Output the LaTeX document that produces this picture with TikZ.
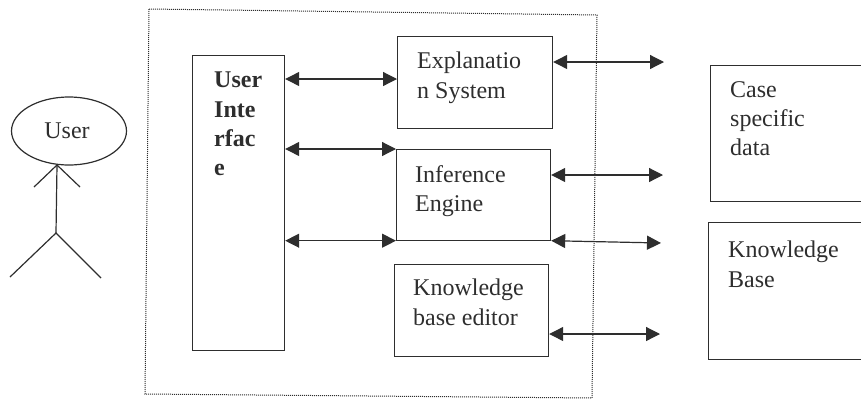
\documentclass[tikz,border=0pt]{standalone}
\usepackage{fontspec}
\setmainfont{Liberation Serif}
\usetikzlibrary{arrows.meta,shapes.geometric}
\definecolor{inkgray}{gray}{0.18}
\tikzset{
  blockbox/.style={draw=inkgray,line width=1.2pt,inner sep=0pt,anchor=north west,align=left},
  blocktext/.style={inner sep=0pt,anchor=north west,align=left,text=inkgray,font=\fontsize{24}{29.3}\selectfont},
  bothway/.style={draw=inkgray,line width=1.2pt,{Triangle[length=14pt,width=14pt]}-{Triangle[length=14pt,width=14pt]}}
}
\begin{document}
\begin{tikzpicture}[x=1pt,y=-1pt]
\useasboundingbox (0,0) rectangle (861,400);
\clip (0,0) rectangle (861,400);
% actor
\node [draw=inkgray,ellipse,line width=1.2pt,minimum width=115pt,minimum height=68pt,inner sep=0pt,text=inkgray,font=\fontsize{24}{28}\selectfont] (user) at (69,131) {\kern-4pt User};
\coordinate (neck) at (57,165);
\coordinate (hip) at (56,233);
\coordinate (handl) at (34,187);
\coordinate (handr) at (80,187);
\coordinate (footl) at (10,277);
\coordinate (footr) at (101,278);
\draw [draw=inkgray,line width=1.2pt] (neck) -- (hip);
\draw [draw=inkgray,line width=1.2pt] (handl) -- (neck) -- (handr);
\draw [draw=inkgray,line width=1.2pt] (footl) -- (hip) -- (footr);
% system border
\draw [draw=inkgray,line width=1pt,dash pattern=on 1pt off 1pt] (149,9) -- (597,15) -- (592,398) -- (145,394) -- cycle;
% blocks
\node [blockbox,minimum width=92pt,minimum height=295pt] (ui) at (192,55) {};
\node [blockbox,minimum width=155pt,minimum height=92pt] (expl) at (397,36) {};
\node [blockbox,minimum width=154pt,minimum height=90.5pt] (infer) at (396,149) {};
\node [blockbox,minimum width=154pt,minimum height=92pt] (edit) at (394,264) {};
\node [blockbox,minimum width=170pt,minimum height=136pt] (case) at (710,65) {};
\node [blockbox,minimum width=170pt,minimum height=137pt] (kb) at (708,222) {};
% labels
\node [blocktext,font=\fontsize{24}{29.3}\selectfont\bfseries] (uitext) at (214,72) {User\\Inte\\rfac\\e};
\node [blocktext] (expltext) at (417,52) {Explanatio\\n System};
\node [blocktext] (infertext) at (415,165) {Inference\\Engine};
\node [blocktext] (edittext) at (413,279) {Knowledge\\base editor};
\node [blocktext] (casetext) at (730,81) {Case\\specific\\data};
\node [blocktext] (kbtext) at (728,241) {Knowledge\\Base};
% arrows
\coordinate (a1) at (664,62);
\coordinate (a2) at (663,175);
\coordinate (a3) at (661,243);
\coordinate (a4) at (660,334);
\draw [bothway] (ui.east |- 0,79) -- (expl.west |- 0,79);
\draw [bothway] (ui.east |- infer.north) -- (infer.north west);
\draw [bothway] (ui.east |- infer.south) -- (infer.south west);
\draw [bothway] (expl.east |- a1) -- (a1);
\draw [bothway] (infer.east |- a2) -- (a2);
\draw [bothway] (infer.south east) -- (a3);
\draw [bothway] (edit.east |- a4) -- (a4);
\end{tikzpicture}
\end{document}
